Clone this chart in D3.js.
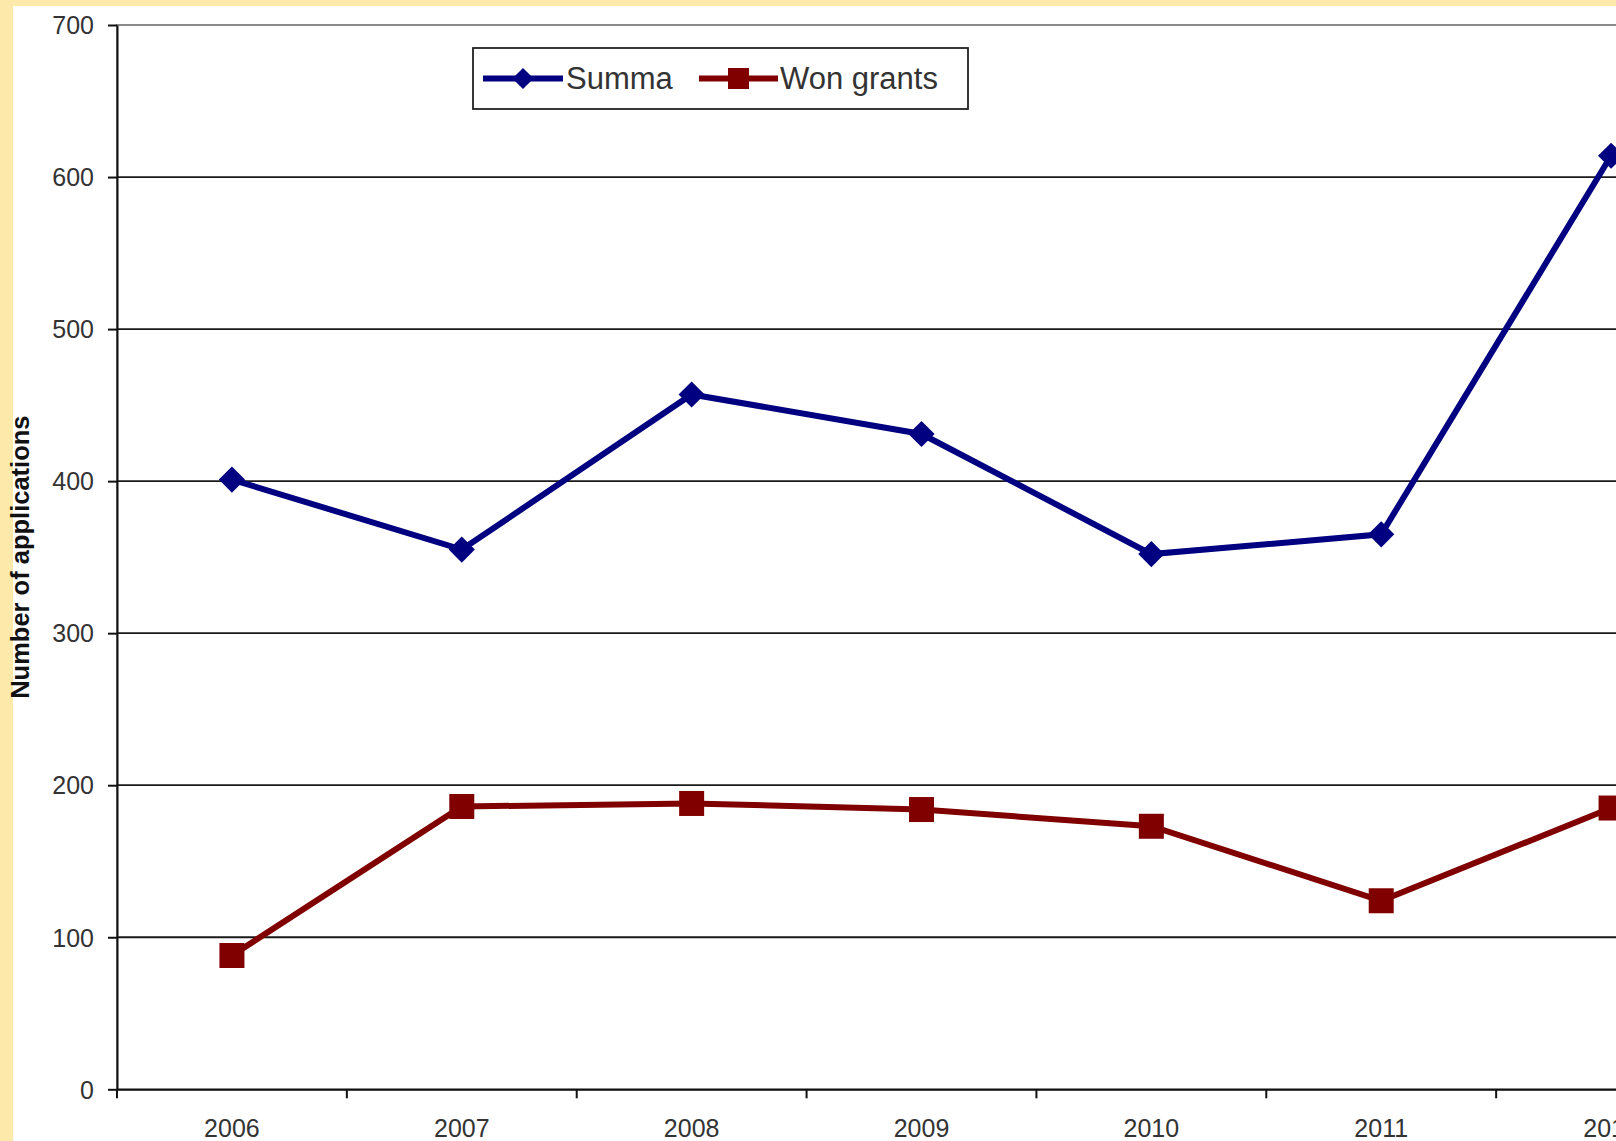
<!DOCTYPE html>
<html><head><meta charset="utf-8">
<script src="https://cdn.jsdelivr.net/npm/d3@7"></script>
<style>html,body{margin:0;padding:0;background:#fde9aa;overflow:hidden}</style>
</head><body>
<svg id="c" width="1616" height="1141"></svg>
<script>
const years = ["2006","2007","2008","2009","2010","2011","2012"];
const summa = [401, 355, 457, 431, 352, 365, 614];
const wonGrants = [88, 186, 188, 184, 173, 124, 185];
const yTicks = [0,100,200,300,400,500,600,700];
const seriesNames = ["Summa","Won grants"];

const svg = d3.select("#c");
svg.append("rect").attr("x",0).attr("y",0).attr("width",1616).attr("height",1141).attr("fill","#fde9aa");
svg.append("rect").attr("x",13).attr("y",6).attr("width",1603).attr("height",1135).attr("fill","#ffffff");

const L=117, R=1726, T=25, B=1089.3;
const x = d3.scaleBand().domain(years).range([L,R]).padding(0);
const y = d3.scaleLinear().domain([0,700]).range([B,T]);
const font = "'Liberation Sans', Arial, sans-serif";

// plot area border
svg.append("rect").attr("x",L).attr("y",T).attr("width",R-L).attr("height",B-T)
  .attr("fill","none").attr("stroke","#8a8a8a").attr("stroke-width",2);

// gridlines
svg.append("g").selectAll("line").data(yTicks.filter(d=>d>0 && d<700)).join("line")
  .attr("x1",L).attr("x2",R).attr("y1",d=>y(d)).attr("y2",d=>y(d))
  .attr("stroke","#1a1a1a").attr("stroke-width",1.8);

// y axis
const ya = svg.append("g").attr("transform",`translate(${L},0)`)
  .call(d3.axisLeft(y).tickValues(yTicks).tickSize(9).tickPadding(14).tickSizeOuter(0));
ya.select(".domain").attr("stroke","#111").attr("stroke-width",2);
ya.selectAll(".tick line").attr("stroke","#111").attr("stroke-width",2);
ya.selectAll("text").attr("font-family",font).attr("font-size",25).attr("fill","#333").attr("dy","0.35em");

// x axis
const xa = svg.append("g").attr("transform",`translate(0,${B})`)
  .call(d3.axisBottom(x).tickSize(0).tickPadding(30).tickSizeOuter(0));
xa.select(".domain").attr("stroke","#111").attr("stroke-width",2);
xa.selectAll("text").attr("font-family",font).attr("font-size",25).attr("fill","#333");
// boundary ticks
svg.append("g").selectAll("line").data(years).join("line")
  .attr("x1",d=>x(d)).attr("x2",d=>x(d)).attr("y1",B).attr("y2",B+9)
  .attr("stroke","#111").attr("stroke-width",2);

// y title
svg.append("text").attr("transform",`translate(29,${(T+B)/2}) rotate(-90)`)
  .attr("text-anchor","middle").attr("font-family",font).attr("font-weight","bold")
  .attr("font-size",25.5).attr("fill","#111").text("Number of applications");

const cx = d=>x(d)+x.bandwidth()/2;
const blue="#000080", red="#800000";
const line = d3.line().x(d=>cx(d[0])).y(d=>y(d[1]));
const sData = years.map((d,i)=>[d,summa[i]]);
const wData = years.map((d,i)=>[d,wonGrants[i]]);

svg.append("path").datum(wData).attr("d",line).attr("fill","none").attr("stroke",red).attr("stroke-width",6);
svg.append("g").selectAll("rect").data(wData).join("rect")
  .attr("x",d=>cx(d[0])-12.5).attr("y",d=>y(d[1])-12.5).attr("width",25).attr("height",25).attr("fill",red);

svg.append("path").datum(sData).attr("d",line).attr("fill","none").attr("stroke",blue).attr("stroke-width",6);
svg.append("g").selectAll("path").data(sData).join("path")
  .attr("d",d3.symbol().type(d3.symbolSquare).size(18.5*18.5))
  .attr("transform",d=>`translate(${cx(d[0])},${y(d[1])}) rotate(45)`).attr("fill",blue);

// legend
const lg = svg.append("g");
lg.append("rect").attr("x",473).attr("y",48).attr("width",495).attr("height",61)
  .attr("fill","#fff").attr("stroke","#222").attr("stroke-width",1.8);
const items = [{name:seriesNames[0],color:blue,x0:483,x1:563,tx:566},{name:seriesNames[1],color:red,x0:699,x1:778,tx:780}];
items.forEach((it,i)=>{
  lg.append("line").attr("x1",it.x0).attr("x2",it.x1).attr("y1",78.5).attr("y2",78.5).attr("stroke",it.color).attr("stroke-width",6);
  const mx=(it.x0+it.x1)/2;
  if(i===0){
    lg.append("path").attr("d",d3.symbol().type(d3.symbolSquare).size(15*15)).attr("transform",`translate(${mx},78.5) rotate(45)`).attr("fill",it.color);
  } else {
    lg.append("rect").attr("x",mx-10.5).attr("y",68).attr("width",21).attr("height",21).attr("fill",it.color);
  }
  lg.append("text").attr("x",it.tx).attr("y",78.5).attr("dy","0.35em").attr("font-family",font)
    .attr("font-size",31).attr("fill","#333").text(it.name);
});
</script>
</body></html>
